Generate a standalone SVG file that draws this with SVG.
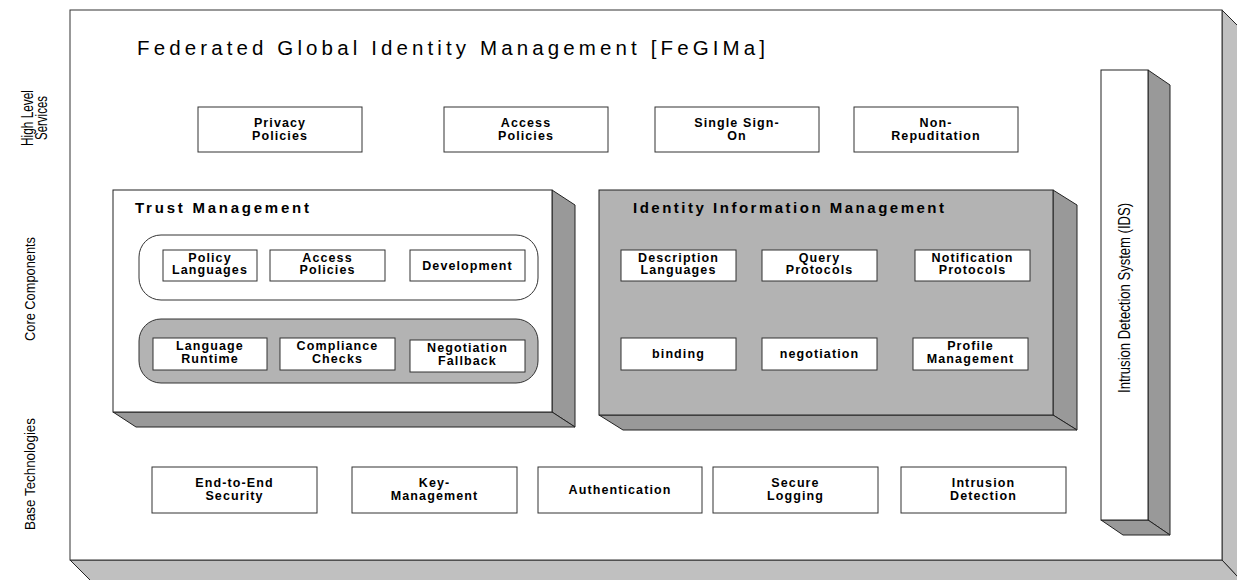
<svg xmlns="http://www.w3.org/2000/svg" width="1237" height="580" viewBox="0 0 1237 580">
  <style>
    .box { fill: #fff; stroke: #333; stroke-width: 1; }
    .side { fill: #999; stroke: #222; stroke-width: 1; stroke-linejoin: round; }
    .outer-side { fill: #c0c0c0; stroke: #222; stroke-width: 1; }
    .lbl { font-family: "Liberation Sans", Arial, sans-serif; font-weight: bold; font-size: 12.5px; letter-spacing: 1.1px; text-anchor: middle; fill: #000; }
    .head { font-family: "Liberation Sans", Arial, sans-serif; font-weight: bold; font-size: 15px; fill: #000; }
    .title { font-family: "Liberation Sans", Arial, sans-serif; font-size: 20.5px; fill: #000; }
    .layer { font-family: "Liberation Sans Narrow", "Liberation Sans", Arial, sans-serif; font-size: 15px; text-anchor: middle; fill: #000; }
  </style>

  <!-- layer captions on the left margin -->
  <g id="layer-labels">
    <text class="layer" style="font-size:16px" transform="translate(33,118) rotate(-90)" textLength="56" lengthAdjust="spacingAndGlyphs">High Level</text>
    <text class="layer" style="font-size:16px" transform="translate(47,118) rotate(-90)" textLength="44" lengthAdjust="spacingAndGlyphs">Services</text>
    <text class="layer" transform="translate(35,289) rotate(-90)" textLength="104" lengthAdjust="spacingAndGlyphs">Core Components</text>
    <text class="layer" transform="translate(35,474) rotate(-90)" textLength="112" lengthAdjust="spacingAndGlyphs">Base Technologies</text>
  </g>

  <!-- outer FeGIMa block -->
  <g id="fegima">
    <polygon class="outer-side" points="1222,10 1250,38 1250,590 1222,560"/>
    <polygon class="outer-side" points="70,560 1222,560 1250,590 100,590"/>
    <rect x="70" y="10" width="1152" height="550" fill="#fff" stroke="#333" stroke-width="1"/>
    <text class="title" x="137" y="55" textLength="628" lengthAdjust="spacing">Federated Global Identity Management [FeGIMa]</text>
  </g>

  <!-- high level services -->
  <g id="privacy-policies">
    <rect class="box" x="198" y="107" width="164" height="45"/>
    <text class="lbl" x="280" y="127">Privacy</text>
    <text class="lbl" x="280" y="140">Policies</text>
  </g>
  <g id="access-policies">
    <rect class="box" x="444" y="107" width="164" height="45"/>
    <text class="lbl" x="526" y="127">Access</text>
    <text class="lbl" x="526" y="140">Policies</text>
  </g>
  <g id="single-sign-on">
    <rect class="box" x="655" y="107" width="164" height="45"/>
    <text class="lbl" x="737" y="127">Single Sign-</text>
    <text class="lbl" x="737" y="140">On</text>
  </g>
  <g id="non-repudiation">
    <rect class="box" x="854" y="107" width="164" height="45"/>
    <text class="lbl" x="936" y="127">Non-</text>
    <text class="lbl" x="936" y="140">Repuditation</text>
  </g>

  <!-- trust management block -->
  <g id="trust-management">
    <polygon class="side" points="552,190 575,205 575,427 552,412"/>
    <polygon class="side" points="113,412 552,412 575,427 136,427"/>
    <rect x="113" y="190" width="439" height="222" fill="#fff" stroke="#222" stroke-width="1"/>
    <text class="head" x="135" y="213" textLength="174" lengthAdjust="spacing">Trust Management</text>
    <rect x="139" y="235" width="399" height="65" rx="22" fill="#fff" stroke="#333" stroke-width="1"/>
    <rect x="139" y="319" width="399" height="64" rx="22" fill="#b3b3b3" stroke="#333" stroke-width="1"/>
  </g>
  <g id="policy-languages">
    <rect class="box" x="163" y="250" width="94" height="31"/>
    <text class="lbl" x="210" y="262">Policy</text>
    <text class="lbl" x="210" y="274">Languages</text>
  </g>
  <g id="tm-access-policies">
    <rect class="box" x="270" y="250" width="115" height="31"/>
    <text class="lbl" x="327.5" y="262">Access</text>
    <text class="lbl" x="327.5" y="274">Policies</text>
  </g>
  <g id="development">
    <rect class="box" x="410" y="250" width="115" height="31"/>
    <text class="lbl" x="467.5" y="270">Development</text>
  </g>
  <g id="language-runtime">
    <rect class="box" x="153" y="338" width="114" height="32"/>
    <text class="lbl" x="210" y="350">Language</text>
    <text class="lbl" x="210" y="363">Runtime</text>
  </g>
  <g id="compliance-checks">
    <rect class="box" x="280" y="338" width="115" height="32"/>
    <text class="lbl" x="337.5" y="350">Compliance</text>
    <text class="lbl" x="337.5" y="363">Checks</text>
  </g>
  <g id="negotiation-fallback">
    <rect class="box" x="410" y="340" width="115" height="32"/>
    <text class="lbl" x="467.5" y="352">Negotiation</text>
    <text class="lbl" x="467.5" y="365">Fallback</text>
  </g>

  <!-- identity information management block -->
  <g id="identity-information-management">
    <polygon class="side" points="1053,190 1077,205 1077,430 1053,415"/>
    <polygon class="side" points="599,415 1053,415 1077,430 623,430"/>
    <rect x="599" y="190" width="454" height="225" fill="#b3b3b3" stroke="#222" stroke-width="1"/>
    <text class="head" x="633" y="213" textLength="311" lengthAdjust="spacing">Identity Information Management</text>
  </g>
  <g id="description-languages">
    <rect class="box" x="621" y="250" width="115" height="31"/>
    <text class="lbl" x="678.5" y="262">Description</text>
    <text class="lbl" x="678.5" y="274">Languages</text>
  </g>
  <g id="query-protocols">
    <rect class="box" x="762" y="250" width="115" height="31"/>
    <text class="lbl" x="819.5" y="262">Query</text>
    <text class="lbl" x="819.5" y="274">Protocols</text>
  </g>
  <g id="notification-protocols">
    <rect class="box" x="915" y="250" width="115" height="31"/>
    <text class="lbl" x="972.5" y="262">Notification</text>
    <text class="lbl" x="972.5" y="274">Protocols</text>
  </g>
  <g id="binding">
    <rect class="box" x="621" y="338" width="115" height="32"/>
    <text class="lbl" x="678.5" y="358">binding</text>
  </g>
  <g id="negotiation">
    <rect class="box" x="762" y="338" width="115" height="32"/>
    <text class="lbl" x="819.5" y="358">negotiation</text>
  </g>
  <g id="profile-management">
    <rect class="box" x="913" y="338" width="115" height="32"/>
    <text class="lbl" x="970.5" y="350">Profile</text>
    <text class="lbl" x="970.5" y="363">Management</text>
  </g>

  <!-- base technologies -->
  <g id="end-to-end-security">
    <rect class="box" x="152" y="467" width="165" height="46"/>
    <text class="lbl" x="234.5" y="487">End-to-End</text>
    <text class="lbl" x="234.5" y="500">Security</text>
  </g>
  <g id="key-management">
    <rect class="box" x="352" y="467" width="165" height="46"/>
    <text class="lbl" x="434.5" y="487">Key-</text>
    <text class="lbl" x="434.5" y="500">Management</text>
  </g>
  <g id="authentication">
    <rect class="box" x="538" y="467" width="164" height="46"/>
    <text class="lbl" x="620" y="494">Authentication</text>
  </g>
  <g id="secure-logging">
    <rect class="box" x="713" y="467" width="165" height="46"/>
    <text class="lbl" x="795.5" y="487">Secure</text>
    <text class="lbl" x="795.5" y="500">Logging</text>
  </g>
  <g id="intrusion-detection">
    <rect class="box" x="901" y="467" width="165" height="46"/>
    <text class="lbl" x="983.5" y="487">Intrusion</text>
    <text class="lbl" x="983.5" y="500">Detection</text>
  </g>

  <!-- intrusion detection system column -->
  <g id="ids">
    <polygon class="side" points="1148,70 1170,85 1170,535 1148,520"/>
    <polygon class="side" points="1101,520 1148,520 1170,535 1123,535"/>
    <rect x="1101" y="70" width="47" height="450" fill="#fff" stroke="#222" stroke-width="1"/>
    <text class="layer" style="font-size:16px" transform="translate(1130,298) rotate(-90)" textLength="190" lengthAdjust="spacingAndGlyphs">Intrusion Detection System (IDS)</text>
  </g>

  <!-- no connectors in this diagram -->
  <g id="connectors"/>
</svg>
